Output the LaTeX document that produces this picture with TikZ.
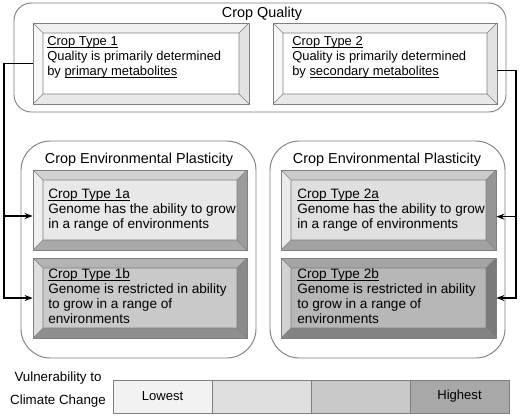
\documentclass[tikz,border=0pt]{standalone}
\usepackage{fontspec}
\setmainfont{Liberation Sans}
\usetikzlibrary{fit,arrows.meta}
\newcommand\uln[1]{\setbox0\hbox{#1}\rlap{\vrule height -1.1pt depth 1.7pt width \wd0}\box0}
% top boxes
\definecolor{qF}{HTML}{FFFFFF}\definecolor{qT}{HTML}{F0F0F0}\definecolor{qL}{HTML}{F8F8F8}\definecolor{qR}{HTML}{E2E2E2}\definecolor{qB}{HTML}{E8E8E8}
% 1a
\definecolor{aF}{HTML}{E8E8E8}\definecolor{aT}{HTML}{D2D2D2}\definecolor{aL}{HTML}{EFEFEF}\definecolor{aR}{HTML}{9C9C9C}\definecolor{aB}{HTML}{A9A9A9}
% 2a
\definecolor{cF}{HTML}{DFDFDF}\definecolor{cT}{HTML}{CBCBCB}\definecolor{cL}{HTML}{EBEBEB}\definecolor{cR}{HTML}{959595}\definecolor{cB}{HTML}{A2A2A2}
% 1b
\definecolor{bF}{HTML}{C9C9C9}\definecolor{bT}{HTML}{B3B3B3}\definecolor{bL}{HTML}{DEDEDE}\definecolor{bR}{HTML}{8A8A8A}\definecolor{bB}{HTML}{8F8F8F}
% 2b
\definecolor{dF}{HTML}{B7B7B7}\definecolor{dT}{HTML}{A4A4A4}\definecolor{dL}{HTML}{D2D2D2}\definecolor{dR}{HTML}{7A7A7A}\definecolor{dB}{HTML}{838383}
\definecolor{edge}{HTML}{7F7F7F}
\definecolor{vA}{HTML}{F2F2F2}\definecolor{vB}{HTML}{DFDFDF}\definecolor{vC}{HTML}{C8C8C8}\definecolor{vD}{HTML}{A8A8A8}

\newcommand\bevbox[7]{%
  \fill[#7T] (#2,#3) -- (#4,#3) -- (#4-#6,#3+#6) -- (#2+#6,#3+#6) -- cycle;
  \fill[#7B] (#2,#5) -- (#4,#5) -- (#4-#6,#5-#6) -- (#2+#6,#5-#6) -- cycle;
  \fill[#7L] (#2,#3) -- (#2+#6,#3+#6) -- (#2+#6,#5-#6) -- (#2,#5) -- cycle;
  \fill[#7R] (#4,#3) -- (#4-#6,#3+#6) -- (#4-#6,#5-#6) -- (#4,#5) -- cycle;
  \fill[#7F] (#2+#6,#3+#6) rectangle (#4-#6,#5-#6);
  \draw[bevline] (#2+#6,#3+#6) rectangle (#4-#6,#5-#6)
     (#2,#3) -- (#2+#6,#3+#6) (#4,#3) -- (#4-#6,#3+#6)
     (#2,#5) -- (#2+#6,#5-#6) (#4,#5) -- (#4-#6,#5-#6);
  \node[fit={(#2,#3) (#4,#5)}, inner sep=0pt, draw=edge, line width=0.6pt] (#1) {};
}

\tikzset{
  bevline/.style={draw=edge, line width=0.4pt},
  container/.style={draw=edge, line width=0.7pt, inner sep=0pt},
  title/.style={font=\fontsize{10.8}{12}\selectfont, inner sep=0pt},
  body/.style={font=\fontsize{10.2}{11.25}\selectfont, align=left, anchor=north west, inner sep=0pt},
  topbody/.style={body, font=\fontsize{9.7}{11.25}\selectfont},
  conn/.style={draw=black, line width=0.9pt},
  arr/.style={conn, -{Stealth[length=6pt,width=4.5pt]}},
  seg/.style={draw=edge, line width=0.7pt, inner sep=0pt},
  vlab/.style={font=\fontsize{9.8}{12}\selectfont, inner sep=0pt}
}

\begin{document}
\begin{tikzpicture}[x=0.75pt,y=-0.75pt]
\useasboundingbox[fill=white] (0,0) rectangle (520,418);

% containers
\node[container, rounded corners=13pt, fit={(14,3) (506,112)}] (cq) {};
\node[title] (cqt) at (262,14) {Crop Quality};
\node[container, rounded corners=22pt, fit={(21,141) (256,358)}] (cl) {};
\node[title] (clt) at (139,160) {Crop Environmental Plasticity};
\node[container, rounded corners=22pt, fit={(270,141) (505,358)}] (cr) {};
\node[title] (crt) at (387,160) {Crop Environmental Plasticity};

% boxes
\bevbox{b1}{33}{23}{249}{104}{10}{q}
\bevbox{b2}{273}{23}{497}{104}{10}{q}
\bevbox{b1a}{33}{170}{247}{250}{10}{a}
\bevbox{b1b}{33}{258}{247}{338}{10}{b}
\bevbox{b2a}{281}{170}{496}{250}{10}{c}
\bevbox{b2b}{281}{258}{496}{338}{10}{d}

% texts
\node[topbody] (t1) at (47,36.5) {\uln{Crop Type 1}\\Quality is primarily determined\\by \uln{primary metabolites}};
\node[topbody] (t2) at (292,36.5) {\uln{Crop Type 2}\\Quality is primarily determined\\by \uln{secondary metabolites}};
\node[body] (t1a) at (48,188.5) {\uln{Crop Type 1a}\\Genome has the ability to grow\\in a range of environments};
\node[body] (t2a) at (297,188.5) {\uln{Crop Type 2a}\\Genome has the ability to grow\\in a range of environments};
\node[body] (t1b) at (48,268.5) {\uln{Crop Type 1b}\\Genome is restricted in ability\\to grow in a range of\\environments};
\node[body] (t2b) at (297,268.5) {\uln{Crop Type 2b}\\Genome is restricted in ability\\to grow in a range of\\environments};

% connectors
\coordinate (lx) at (4,0);
\coordinate (rx) at (516,0);
\coordinate (in1a) at ([yshift=-4.5pt]b1a.west);
\coordinate (in2a) at ([yshift=-5pt]b2a.east);
\coordinate (out2) at ([yshift=-5pt]b2.east);
\draw[arr] (b1.west) -| (lx |- b1b.west) -- (b1b.west);
\draw[arr] (lx |- in1a) -- (in1a);
\draw[arr] (out2) -| (rx |- b2b.east) -- (b2b.east);
\draw[arr] (rx |- in2a) -- (in2a);

% vulnerability scale
\node[vlab, align=center, anchor=north, font=\fontsize{10}{17.25}\selectfont] (vt) at (58,372) {Vulnerability to\\Climate Change};
\node[seg, fill=vA, fit={(113,380) (212,413)}] (s1) {};
\node[seg, fill=vB, fit={(212,380) (311,413)}] (s2) {};
\node[seg, fill=vC, fit={(311,380) (410,413)}] (s3) {};
\node[seg, fill=vD, fit={(410,380) (509,413)}] (s4) {};
\node[vlab] at (s1) {Lowest};
\node[vlab] at (s4) {Highest};
\end{tikzpicture}
\end{document}
